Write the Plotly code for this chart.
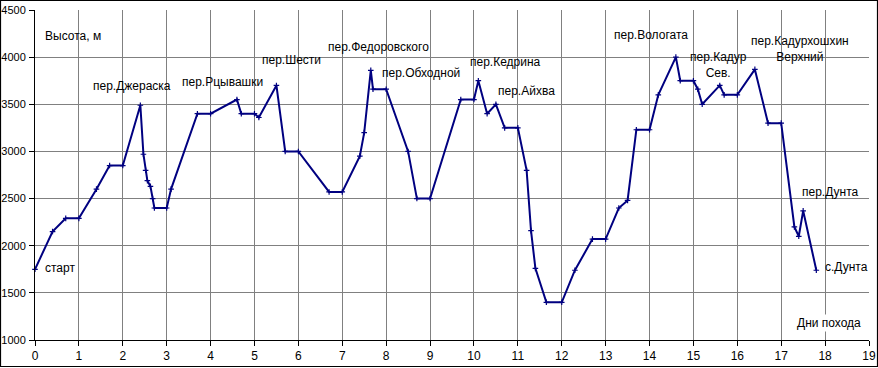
import plotly.graph_objects as go

days = [0, 0.4, 0.7, 1.0, 1.4, 1.7, 2.0, 2.4, 2.47, 2.52, 2.56, 2.63, 2.68, 2.72, 3.0, 3.1,
        3.7, 4.0, 4.6, 4.7, 5.0, 5.1, 5.5, 5.7, 6.0, 6.7, 7.0, 7.4, 7.5, 7.65, 7.7, 8.0,
        8.5, 8.7, 9.0, 9.7, 10.0, 10.1, 10.3, 10.5, 10.7, 11.0, 11.2, 11.3, 11.4, 11.65,
        12.0, 12.3, 12.7, 13.0, 13.3, 13.5, 13.7, 14.0, 14.2, 14.6, 14.7, 15.0, 15.1,
        15.2, 15.6, 15.7, 16.0, 16.4, 16.7, 17.0, 17.3, 17.4, 17.5, 17.8]
heights = [1750, 2150, 2290, 2290, 2600, 2850, 2850, 3490, 2970, 2800, 2690, 2630, 2500, 2400, 2400, 2600,
           3400, 3400, 3550, 3400, 3400, 3360, 3700, 3000, 3000, 2570, 2570, 2950, 3200, 3860, 3660, 3660,
           3000, 2500, 2500, 3550, 3550, 3750, 3400, 3500, 3250, 3250, 2800, 2160, 1760, 1400,
           1400, 1740, 2070, 2070, 2400, 2480, 3230, 3230, 3600, 4000, 3750, 3750, 3660,
           3500, 3700, 3600, 3600, 3870, 3300, 3300, 2200, 2100, 2370, 1740]

x_ticks = list(range(0, 20))
y_ticks = [1000, 1500, 2000, 2500, 3000, 3500, 4000, 4500]

# labels: (text, x, y, xanchor)
labels = [
    ("Высота, м", 0.18, 4224, "left"),
    ("старт", 0.18, 1764, "left"),
    ("пер.Джераска", 1.28, 3694, "left"),
    ("пер.Рцывашки", 3.30, 3736, "left"),
    ("пер.Шести", 5.13, 3970, "left"),
    ("пер.Федоровского", 6.63, 4108, "left"),
    ("пер.Обходной", 7.86, 3832, "left"),
    ("пер.Кедрина", 9.86, 3948, "left"),
    ("пер.Айхва", 10.50, 3641, "left"),
    ("пер.Вологата", 13.14, 4235, "left"),
    ("пер.Кадур<br>Сев.", 15.58, 3917, "center"),
    ("пер.Кадурхошхин<br>Верхний", 17.43, 4086, "center"),
    ("пер.Дунта", 17.43, 2570, "left"),
    ("с.Дунта", 17.95, 1774, "left"),
]
axis_title_x = ("Дни похода", 17.31, 1180)

FONT = "Liberation Sans, Arial, sans-serif"

fig = go.Figure()
fig.add_trace(go.Scatter(
    x=days, y=heights, mode="lines+markers",
    line=dict(color="#000080", width=2),
    marker=dict(symbol="cross-thin", size=4, color="#000080",
                line=dict(color="#000080", width=1.2)),
    showlegend=False, cliponaxis=False,
))

annotations = []
for text, x, y, xa in labels:
    annotations.append(dict(text=text, x=x, y=y, xref="x", yref="y", xanchor=xa,
                            yanchor="middle", showarrow=False,
                            font=dict(family=FONT, size=12, color="black")))
annotations.append(dict(text=axis_title_x[0], x=axis_title_x[1], y=axis_title_x[2],
                        xref="x", yref="y", xanchor="left", yanchor="middle",
                        showarrow=False, bgcolor="white",
                        font=dict(family=FONT, size=12, color="black")))

W, H = 878, 368
ml, mr, mt, mb = 35, 9, 10, 28
pw, ph = W - ml - mr, H - mt - mb

fig.update_layout(
    width=W, height=H,
    margin=dict(l=ml, r=mr, t=mt, b=mb, autoexpand=False),
    paper_bgcolor="white", plot_bgcolor="white",
    font=dict(family=FONT, size=12, color="black"),
    annotations=annotations,
    shapes=[dict(type="rect", xref="paper", yref="paper",
                 x0=(-ml + 0.5) / pw, x1=(W - ml - 0.5) / pw,
                 y0=(-mb + 1.5) / ph, y1=(ph + mt - 0.5) / ph,
                 line=dict(color="black", width=1.2), layer="above")],
)
fig.update_xaxes(range=[0, 19], tickvals=x_ticks, ticktext=[str(v) for v in x_ticks],
                 showgrid=True, gridcolor="#808080", gridwidth=1,
                 showline=True, linecolor="black", linewidth=1,
                 ticks="outside", ticklen=5, tickcolor="black", automargin=False,
                 zeroline=False, tickfont=dict(size=12))
fig.update_yaxes(range=[1000, 4500], tickvals=y_ticks,
                 showgrid=True, gridcolor="#808080", gridwidth=1,
                 showline=True, linecolor="black", linewidth=1,
                 ticks="outside", ticklen=5, tickcolor="black", automargin=False,
                 ticklabelstandoff=1,
                 zeroline=False, tickfont=dict(size=11))

fig.write_html(
    "out.html",
    config={"displayModeBar": False},
    post_script="document.documentElement.style.margin='0';"
                "document.body.style.margin='0';"
                "document.body.style.overflow='hidden';",
)
